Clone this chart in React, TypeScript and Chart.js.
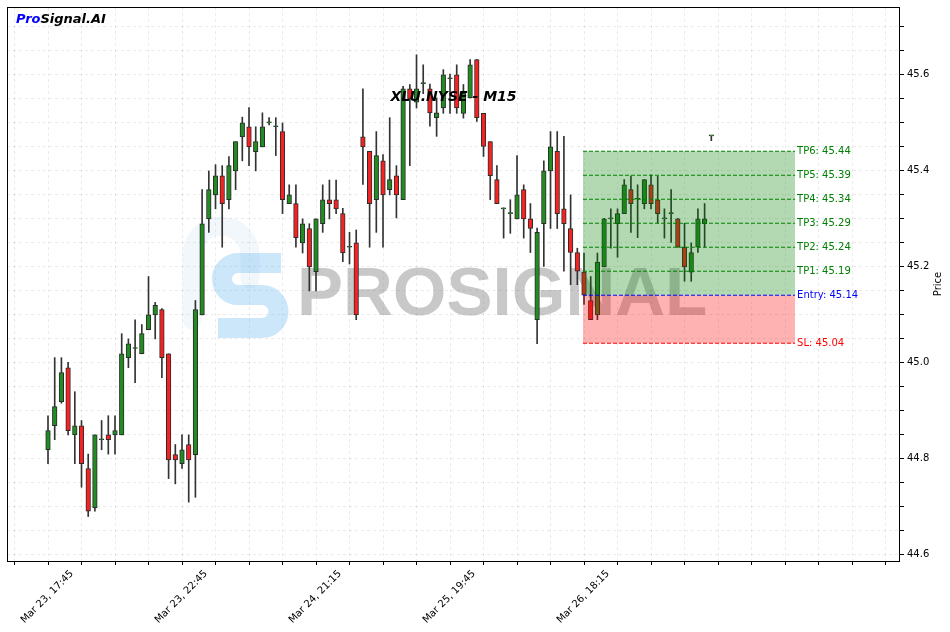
import React, { useEffect, useRef } from 'react';
import { Chart, registerables } from 'chart.js';

Chart.register(...registerables);

// ---- data ----
const opens = [
  44.818, 44.868, 44.918, 44.989, 44.849, 44.868, 44.779, 44.697, 44.839, 44.849,
  44.849, 44.849, 45.010, 45.029, 45.018, 45.068, 45.099, 45.110, 45.018, 44.808,
  44.789, 44.829, 44.808, 45.099, 45.299, 45.349, 45.389, 45.339, 45.399, 45.470,
  45.491, 45.439, 45.449, 45.499, 45.491, 45.481, 45.331, 45.331, 45.249, 45.279,
  45.189, 45.289, 45.339, 45.339, 45.310, 45.240, 45.249, 45.470, 45.440, 45.339,
  45.420, 45.360, 45.389, 45.339, 45.570, 45.542, 45.581, 45.570, 45.510, 45.530,
  45.591, 45.599, 45.519, 45.551, 45.631, 45.519, 45.460, 45.381, 45.320, 45.310,
  45.299, 45.360, 45.299, 45.089, 45.289, 45.399, 45.440, 45.320, 45.279, 45.229,
  45.188, 45.129, 45.099, 45.199, 45.299, 45.289, 45.310, 45.360, 45.340, 45.331,
  45.370, 45.339, 45.299, 45.310, 45.299, 45.240, 45.188, 45.240, 45.289, 45.472,
];
const highs = [
  44.889, 45.010, 45.010, 45.000, 44.939, 44.879, 44.809, 44.849, 44.879, 44.889,
  44.889, 45.060, 45.049, 45.089, 45.079, 45.179, 45.125, 45.112, 45.018, 44.829,
  44.849, 44.849, 45.129, 45.360, 45.399, 45.412, 45.410, 45.429, 45.460, 45.511,
  45.531, 45.491, 45.520, 45.510, 45.510, 45.499, 45.370, 45.370, 45.299, 45.289,
  45.299, 45.370, 45.380, 45.380, 45.321, 45.271, 45.276, 45.570, 45.440, 45.481,
  45.433, 45.510, 45.410, 45.575, 45.579, 45.641, 45.620, 45.580, 45.551, 45.610,
  45.601, 45.620, 45.579, 45.631, 45.631, 45.519, 45.460, 45.410, 45.322, 45.339,
  45.431, 45.370, 45.331, 45.280, 45.420, 45.481, 45.481, 45.471, 45.349, 45.238,
  45.228, 45.179, 45.228, 45.300, 45.320, 45.320, 45.381, 45.388, 45.370, 45.381,
  45.391, 45.388, 45.320, 45.360, 45.300, 45.290, 45.249, 45.320, 45.331, 45.472,
];
const lows = [
  44.789, 44.839, 44.915, 44.849, 44.789, 44.740, 44.679, 44.690, 44.818, 44.809,
  44.809, 44.849, 44.989, 44.958, 45.018, 45.068, 45.049, 44.968, 44.758, 44.747,
  44.779, 44.709, 44.719, 45.099, 45.271, 45.320, 45.240, 45.320, 45.360, 45.420,
  45.410, 45.399, 45.449, 45.495, 45.431, 45.310, 45.331, 45.240, 45.228, 45.149,
  45.149, 45.271, 45.299, 45.310, 45.210, 45.205, 45.089, 45.371, 45.240, 45.271,
  45.240, 45.349, 45.301, 45.339, 45.410, 45.530, 45.560, 45.492, 45.471, 45.519,
  45.519, 45.519, 45.509, 45.551, 45.502, 45.429, 45.339, 45.331, 45.259, 45.269,
  45.299, 45.259, 45.229, 45.039, 45.200, 45.279, 45.279, 45.190, 45.162, 45.162,
  45.121, 45.089, 45.089, 45.199, 45.238, 45.219, 45.310, 45.271, 45.260, 45.320,
  45.320, 45.290, 45.259, 45.250, 45.240, 45.169, 45.169, 45.229, 45.240, 45.462,
];
const closes = [
  44.858, 44.908, 44.979, 44.858, 44.868, 44.789, 44.690, 44.849, 44.839, 44.839,
  44.858, 45.018, 45.039, 45.029, 45.060, 45.099, 45.119, 45.010, 44.797, 44.797,
  44.818, 44.797, 45.110, 45.289, 45.360, 45.389, 45.331, 45.410, 45.460, 45.499,
  45.449, 45.460, 45.491, 45.499, 45.491, 45.339, 45.349, 45.260, 45.289, 45.199,
  45.299, 45.339, 45.331, 45.320, 45.228, 45.240, 45.099, 45.449, 45.331, 45.431,
  45.349, 45.381, 45.349, 45.570, 45.549, 45.570, 45.581, 45.520, 45.520, 45.599,
  45.591, 45.530, 45.561, 45.620, 45.510, 45.450, 45.389, 45.331, 45.320, 45.310,
  45.349, 45.299, 45.279, 45.271, 45.399, 45.449, 45.310, 45.289, 45.229, 45.190,
  45.140, 45.089, 45.209, 45.299, 45.299, 45.310, 45.370, 45.331, 45.340, 45.381,
  45.331, 45.310, 45.299, 45.310, 45.240, 45.199, 45.229, 45.299, 45.299, 45.472,
];

const tickIndexes = [0, 20, 40, 60, 80];
const tickLabels = ['Mar 23, 17:45', 'Mar 23, 22:45', 'Mar 24, 21:15', 'Mar 25, 19:45', 'Mar 26, 18:15'];

const levelNames = ['TP6', 'TP5', 'TP4', 'TP3', 'TP2', 'TP1', 'Entry', 'SL'];
const levelValues = [45.44, 45.39, 45.34, 45.29, 45.24, 45.19, 45.14, 45.04];
const levelColors = ['#008000', '#008000', '#008000', '#008000', '#008000', '#008000', '#0000ff', '#ff0000'];

const zoneStart = 79.85;
const zoneEnd = 111.5;
const entryPrice = 45.14;
const tp6Price = 45.44;
const slPrice = 45.04;

const xMin = -6.12;
const xMax = 127.16;
const yMin = 44.5863;
const yMax = 45.7405;

const chartTitle = 'XLU.NYSE - M15';

const UP = '#228b22';
const DOWN = '#f52222';
const EDGE = '#2b2b2b';

const labelByIndex: Record<number, string> = {};
tickIndexes.forEach((v, k) => { labelByIndex[v] = tickLabels[k]; });

const decorPlugin = {
  id: 'decor',
  beforeDatasetsDraw(chart: any) {
    const { ctx, chartArea } = chart;
    ctx.save();
    ctx.beginPath();
    ctx.rect(chartArea.left, chartArea.top, chartArea.right - chartArea.left, chartArea.bottom - chartArea.top);
    ctx.clip();
    // faint ring of the logo
    ctx.strokeStyle = 'rgba(170,200,230,0.15)';
    ctx.lineWidth = 19;
    ctx.lineCap = 'round';
    ctx.beginPath();
    ctx.moveTo(250, 279);
    ctx.lineTo(250, 255);
    ctx.arc(221, 255, 29, 0, Math.PI, true);
    ctx.lineTo(192, 320);
    ctx.stroke();
    // blocky S logo
    ctx.strokeStyle = 'rgba(100,180,240,0.33)';
    ctx.lineWidth = 20;
    ctx.lineCap = 'butt';
    ctx.lineJoin = 'round';
    ctx.beginPath();
    ctx.moveTo(281, 263);
    ctx.lineTo(238, 263);
    ctx.arc(238, 279, 16, -Math.PI / 2, Math.PI / 2, true);
    ctx.lineTo(262, 295);
    ctx.arc(262, 311.5, 16.5, -Math.PI / 2, Math.PI / 2, false);
    ctx.lineTo(218, 328);
    ctx.stroke();
    // PROSIGNAL text
    ctx.fillStyle = 'rgba(110,110,110,0.38)';
    ctx.font = 'bold 69px "Liberation Sans"';
    ctx.textAlign = 'left';
    ctx.textBaseline = 'alphabetic';
    ctx.fillText('PROSIGNAL', 297, 315);
    ctx.restore();
  },
  afterDraw(chart: any) {
    const { ctx, chartArea, scales } = chart;
    const xs = scales.x;
    const ys = scales.y;
    ctx.save();
    // frame
    ctx.strokeStyle = '#000';
    ctx.lineWidth = 1;
    ctx.strokeRect(Math.round(chartArea.left) + 0.5, Math.round(chartArea.top) + 0.5,
      Math.round(chartArea.right - chartArea.left) - 1, Math.round(chartArea.bottom - chartArea.top));
    // level labels
    ctx.font = '10px "DejaVu Sans"';
    ctx.textAlign = 'left';
    ctx.textBaseline = 'middle';
    const lx = xs.getPixelForValue(zoneEnd) + 2;
    levelValues.forEach((v, i) => {
      ctx.fillStyle = levelColors[i];
      ctx.fillText(`${levelNames[i]}: ${v.toFixed(2)}`, lx, ys.getPixelForValue(v));
    });
    // title
    ctx.fillStyle = '#000';
    ctx.font = 'italic bold 14px "DejaVu Sans"';
    ctx.textAlign = 'center';
    ctx.textBaseline = 'alphabetic';
    ctx.fillText(chartTitle, (chartArea.left + chartArea.right) / 2, 101);
    // brand
    ctx.font = 'italic bold 13px "DejaVu Sans"';
    ctx.textAlign = 'left';
    ctx.fillStyle = '#0000ff';
    ctx.fillText('Pro', 16, 23);
    const w = ctx.measureText('Pro').width;
    ctx.fillStyle = '#000';
    ctx.fillText('Signal.AI', 16 + w, 23);
    // y axis title
    ctx.font = '10px "DejaVu Sans"';
    ctx.translate(938, (chartArea.top + chartArea.bottom) / 2);
    ctx.rotate(-Math.PI / 2);
    ctx.textAlign = 'center';
    ctx.textBaseline = 'middle';
    ctx.fillText('Price', 0, 0);
    ctx.restore();
  },
};

export default function App() {
  const ref = useRef<HTMLCanvasElement | null>(null);
  useEffect(() => {
    if (!ref.current) return;
    const idx = opens.map((_, i) => i);
    const wickData = idx.map((i) => ({ x: i, y: [lows[i], highs[i]] }));
    const bodyData = idx.map((i) => ({ x: i, y: [opens[i], closes[i]] }));
    const bodyColors = idx.map((i) => (closes[i] >= opens[i] ? UP : DOWN));

    const levelSets: any[] = levelValues.map((v, i) => ({
      type: 'line',
      label: levelNames[i],
      data: [{ x: zoneStart, y: v }, { x: zoneEnd, y: v }],
      borderColor: levelColors[i],
      borderWidth: 1,
      borderDash: [4, 2],
      pointRadius: 0,
      fill: false,
      order: 0,
    }));

    const chart = new Chart(ref.current, {
      type: 'bar',
      data: {
        datasets: [
          {
            type: 'line',
            label: 'profit zone',
            data: [{ x: zoneStart, y: tp6Price }, { x: zoneEnd, y: tp6Price }],
            borderColor: 'rgba(0,0,0,0)',
            borderWidth: 0,
            pointRadius: 0,
            fill: { value: entryPrice },
            backgroundColor: 'rgba(0,128,0,0.3)',
            order: 1,
          } as any,
          {
            type: 'line',
            label: 'loss zone',
            data: [{ x: zoneStart, y: slPrice }, { x: zoneEnd, y: slPrice }],
            borderColor: 'rgba(0,0,0,0)',
            borderWidth: 0,
            pointRadius: 0,
            fill: { value: entryPrice },
            backgroundColor: 'rgba(255,0,0,0.3)',
            order: 1,
          } as any,
          ...levelSets,
          {
            type: 'bar',
            label: 'wicks',
            data: wickData as any,
            backgroundColor: '#333333',
            borderWidth: 0,
            barThickness: 1,
            grouped: false,
            order: 3,
          } as any,
          {
            type: 'bar',
            label: 'bodies',
            data: bodyData as any,
            backgroundColor: bodyColors,
            borderColor: EDGE,
            borderWidth: 1,
            borderSkipped: false,
            barThickness: 4.6,
            minBarLength: 1,
            grouped: false,
            order: 2,
          } as any,
        ],
      },
      options: {
        animation: false,
        responsive: false,
        devicePixelRatio: 1,
        events: [],
        layout: { padding: { left: 7, top: 7, right: 0, bottom: 0 } },
        plugins: {
          legend: { display: false },
          tooltip: { enabled: false },
          title: { display: false },
        },
        scales: {
          x: {
            type: 'linear',
            position: 'bottom',
            min: xMin,
            max: xMax,
            offset: false,
            grid: {
              offset: false,
              color: 'rgba(0,0,0,0.08)',
              lineWidth: 1,
              drawTicks: true,
              tickLength: 4,
              tickColor: '#000',
            },
            border: { display: false, dash: [3, 3] },
            ticks: {
              stepSize: 5,
              includeBounds: false,
              autoSkip: false,
              minRotation: 45,
              maxRotation: 45,
              padding: 3,
              labelOffset: 24,
              color: '#000',
              font: { family: 'DejaVu Sans', size: 10 },
              callback: (v: any) => labelByIndex[Math.round(Number(v))] ?? '',
            },
            afterFit: (s: any) => {
              s.height = 71;
              s.paddingLeft = 0;
              s.paddingRight = 0;
            },
          } as any,
          y: {
            type: 'linear',
            position: 'right',
            min: yMin,
            max: yMax,
            grid: {
              color: 'rgba(0,0,0,0.08)',
              lineWidth: 1,
              drawTicks: true,
              tickLength: 4,
              tickColor: '#000',
            },
            border: { display: false, dash: [3, 3] },
            ticks: {
              stepSize: 0.05,
              includeBounds: false,
              autoSkip: false,
              padding: 3,
              color: '#000',
              font: { family: 'DejaVu Sans', size: 10 },
              callback: (v: any) => (Math.round(Number(v) * 100) % 20 === 0 ? Number(v).toFixed(1) : ''),
            },
            afterFit: (s: any) => {
              s.width = 50;
              s.paddingTop = 0;
              s.paddingBottom = 0;
            },
          } as any,
        },
      },
      plugins: [decorPlugin as any],
    });
    return () => chart.destroy();
  }, []);

  return (
    <div style={{ position: 'absolute', left: 0, top: 0, width: 950, height: 632, background: '#fff' }}>
      <canvas ref={ref} width={950} height={632} style={{ display: 'block' }} />
    </div>
  );
}
